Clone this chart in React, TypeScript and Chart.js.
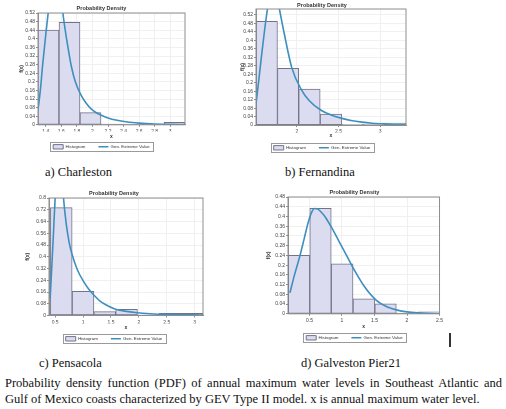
import React, { useEffect, useRef } from "react";
import { Chart, registerables } from "chart.js";

Chart.register(...registerables);
Chart.defaults.font.family = "'Liberation Sans', Arial, sans-serif";
Chart.defaults.color = "#333";

// ---------------- Data ----------------
// a) Charleston
const charlestonBinCenters = [1.435, 1.705, 1.975, 2.245, 2.515, 2.785, 3.055];
const charlestonDensity = [0.441, 0.477, 0.057, 0.003, 0.002, 0.002, 0.011];
const charlestonCurveX = [1.3, 1.33, 1.36, 1.4, 1.44, 1.48, 1.53, 1.58, 1.62, 1.65, 1.69, 1.73, 1.78, 1.85, 1.92, 1.98, 2.05, 2.12, 2.2, 2.3, 2.45, 2.6, 2.8, 3.0, 3.19];
const charlestonCurveY = [0.07, 0.16, 0.28, 0.42, 0.55, 0.68, 0.74, 0.66, 0.52, 0.44, 0.35, 0.27, 0.2, 0.14, 0.1, 0.075, 0.056, 0.043, 0.032, 0.022, 0.013, 0.008, 0.004, 0.002, 0.0012];
const charlestonXTicks = [1.4, 1.6, 1.8, 2, 2.2, 2.4, 2.6, 2.8, 3];
const charlestonYTicks = [0, 0.04, 0.08, 0.12, 0.16, 0.2, 0.24, 0.28, 0.32, 0.36, 0.4, 0.44, 0.48, 0.52];

// b) Fernandina
const fernandinaBinCenters = [1.64, 1.895, 2.15, 2.41, 2.67, 2.925, 3.18];
const fernandinaDensity = [0.49, 0.268, 0.17, 0.052, 0.004, 0.003, 0.01];
const fernandinaCurveX = [1.51, 1.54, 1.58, 1.62, 1.66, 1.7, 1.74, 1.79, 1.85, 1.94, 2.05, 2.15, 2.29, 2.41, 2.53, 2.65, 2.78, 2.9, 3.04, 3.17, 3.31];
const fernandinaCurveY = [0.1, 0.2, 0.34, 0.47, 0.58, 0.66, 0.66, 0.55, 0.43, 0.27, 0.17, 0.115, 0.07, 0.048, 0.033, 0.022, 0.014, 0.009, 0.006, 0.004, 0.003];
const fernandinaXTicks = [2, 2.5, 3];
const fernandinaYTicks = [0, 0.04, 0.08, 0.12, 0.16, 0.2, 0.24, 0.28, 0.32, 0.36, 0.4, 0.44, 0.48, 0.52];

// c) Pensacola
const pensacolaBinCenters = [0.61, 1.0, 1.39, 1.78, 2.17, 2.56, 2.95];
const pensacolaDensity = [0.735, 0.165, 0.026, 0.042, 0.004, 0.014, 0.014];
const pensacolaCurveX = [0.41, 0.44, 0.47, 0.5, 0.54, 0.58, 0.62, 0.65, 0.7, 0.75, 0.8, 0.9, 1.02, 1.1, 1.18, 1.3, 1.4, 1.57, 1.75, 1.97, 2.2, 2.36, 2.6, 2.76, 3.0, 3.15];
const pensacolaCurveY = [0.12, 0.33, 0.56, 0.8, 1.02, 1.1, 0.98, 0.8, 0.62, 0.5, 0.42, 0.31, 0.225, 0.18, 0.145, 0.1, 0.075, 0.045, 0.03, 0.019, 0.012, 0.009, 0.006, 0.005, 0.004, 0.003];
const pensacolaXTicks = [0.5, 1, 1.5, 2, 2.5, 3];
const pensacolaYTicks = [0, 0.08, 0.16, 0.24, 0.32, 0.4, 0.48, 0.56, 0.64, 0.72, 0.8];

// d) Galveston Pier21
const galvestonBinCenters = [0.34, 0.67, 1.0, 1.34, 1.67, 2.0, 2.34];
const galvestonDensity = [0.24, 0.433, 0.205, 0.062, 0.041, 0.003, 0.008];
const galvestonCurveX = [0.2, 0.27, 0.35, 0.42, 0.475, 0.53, 0.575, 0.63, 0.69, 0.75, 0.85, 0.95, 1.07, 1.19, 1.35, 1.53, 1.7, 1.85, 2.0, 2.18, 2.35, 2.5];
const galvestonCurveY = [0.086, 0.16, 0.235, 0.31, 0.37, 0.415, 0.433, 0.43, 0.415, 0.395, 0.35, 0.3, 0.24, 0.18, 0.11, 0.055, 0.028, 0.015, 0.008, 0.004, 0.002, 0.001];
const galvestonXTicks = [0.5, 1, 1.5, 2, 2.5];
const galvestonYTicks = [0, 0.04, 0.08, 0.12, 0.16, 0.2, 0.24, 0.28, 0.32, 0.36, 0.4, 0.44, 0.48];

const chartTitle = "Probability Density";
const histogramLabel = "Histogram";
const curveLabel = "Gen. Extreme Value";
const panelCaptions = ["a) Charleston", "b) Fernandina", "c) Pensacola", "d) Galveston Pier21"];
const figureCaptionLine1 =
  "Probability density function (PDF) of annual maximum water levels in Southeast Atlantic and";
const figureCaptionLine2 =
  "Gulf of Mexico coasts characterized by GEV Type II model. x is annual maximum water level.";

// ---------------- Panel set-up ----------------
type Panel = {
  binCenters: number[];
  density: number[];
  curveX: number[];
  curveY: number[];
  xTicks: number[];
  yTicks: number[];
  xMin: number;
  xMax: number;
  yMax: number;
  box: { left: number; top: number; width: number; height: number };
  pad: { left: number; right: number };
  titlePad: { top: number; bottom: number };
  yAxisWidth: number;
  yTitlePad: number;
  xAxisHeight: number;
  xTitlePad: number;
};

const panels: Panel[] = [
  {
    binCenters: charlestonBinCenters, density: charlestonDensity,
    curveX: charlestonCurveX, curveY: charlestonCurveY,
    xTicks: charlestonXTicks, yTicks: charlestonYTicks,
    xMin: 1.3, xMax: 3.19, yMax: 0.52,
    box: { left: 10, top: 0, width: 180, height: 159 },
    pad: { left: 8, right: 5 },
    titlePad: { top: 4.7, bottom: 1.7 },
    yAxisWidth: 20, yTitlePad: 0.5,
    xAxisHeight: 6.8, xTitlePad: -8.2,
  },
  {
    binCenters: fernandinaBinCenters, density: fernandinaDensity,
    curveX: fernandinaCurveX, curveY: fernandinaCurveY,
    xTicks: fernandinaXTicks, yTicks: fernandinaYTicks,
    xMin: 1.51, xMax: 3.31, yMax: 0.548,
    box: { left: 228, top: 0, width: 180, height: 160 },
    pad: { left: 10, right: 2 },
    titlePad: { top: 1.7, bottom: 0.7 },
    yAxisWidth: 18, yTitlePad: 2,
    xAxisHeight: 7.5, xTitlePad: -6.5,
  },
  {
    binCenters: pensacolaBinCenters, density: pensacolaDensity,
    curveX: pensacolaCurveX, curveY: pensacolaCurveY,
    xTicks: pensacolaXTicks, yTicks: pensacolaYTicks,
    xMin: 0.39, xMax: 3.15, yMax: 0.8,
    box: { left: 22, top: 186, width: 183, height: 165 },
    pad: { left: 3, right: 2 },
    titlePad: { top: 3.7, bottom: 1.7 },
    yAxisWidth: 24, yTitlePad: 0,
    xAxisHeight: 8.1, xTitlePad: -6.9,
  },
  {
    binCenters: galvestonBinCenters, density: galvestonDensity,
    curveX: galvestonCurveX, curveY: galvestonCurveY,
    xTicks: galvestonXTicks, yTicks: galvestonYTicks,
    xMin: 0.17, xMax: 2.5, yMax: 0.48,
    box: { left: 261, top: 185, width: 184, height: 165 },
    pad: { left: 5, right: 2 },
    titlePad: { top: 3.7, bottom: 1.7 },
    yAxisWidth: 22, yTitlePad: 0,
    xAxisHeight: 8.8, xTitlePad: -6.9,
  },
];

const fmt = (v: number | string) => String(Number(Number(v).toFixed(3)));

// draws the plot frame and a border round the legend
const framePlugin = {
  id: "frameAndLegendBox",
  afterDatasetsDraw(chart: any) {
    const { ctx, chartArea: a } = chart;
    ctx.save();
    ctx.strokeStyle = "#8e8e8e";
    ctx.lineWidth = 1;
    ctx.strokeRect(a.left, a.top, a.right - a.left, a.bottom - a.top);
    ctx.restore();
  },
  afterDraw(chart: any) {
    const boxes = chart.legend && chart.legend.legendHitBoxes;
    if (!boxes || !boxes.length) return;
    let l = Infinity, r = -Infinity, t = Infinity, b = -Infinity;
    boxes.forEach((h: any) => {
      l = Math.min(l, h.left);
      r = Math.max(r, h.left + h.width);
      t = Math.min(t, h.top);
      b = Math.max(b, h.top + h.height);
    });
    const ctx = chart.ctx;
    ctx.save();
    ctx.strokeStyle = "#9a9a9a";
    ctx.lineWidth = 1;
    ctx.strokeRect(Math.round(l - 3) + 0.5, Math.round(t - 2.5) + 0.5, Math.round(r - l + 6), Math.round(b - t + 5));
    ctx.restore();
  },
};

function PdfPanel({ p }: { p: Panel }) {
  const ref = useRef<HTMLCanvasElement>(null);
  useEffect(() => {
    const chart = new Chart(ref.current as HTMLCanvasElement, {
      type: "bar",
      data: {
        datasets: [
          {
            type: "bar",
            label: histogramLabel,
            data: p.binCenters.map((x, i) => ({ x, y: p.density[i] })),
            backgroundColor: "#dcdcf1",
            borderColor: "#72728a",
            borderWidth: 1,
            borderSkipped: false,
            barThickness: "flex",
            categoryPercentage: 1,
            barPercentage: 1,
            order: 1,
            pointStyle: "rect",
          } as any,
          {
            type: "line",
            label: curveLabel,
            data: p.curveX.map((x, i) => ({ x, y: p.curveY[i] })),
            borderColor: "#3f8fbe",
            backgroundColor: "#3f8fbe",
            borderWidth: 1.6,
            pointRadius: 0,
            cubicInterpolationMode: "monotone",
            fill: false,
            order: 0,
            pointStyle: "line",
          } as any,
        ],
      },
      options: {
        animation: false,
        responsive: false,
        devicePixelRatio: 1,
        layout: { padding: { left: p.pad.left, right: p.pad.right, top: 0, bottom: 0 } },
        plugins: {
          title: {
            display: true,
            text: chartTitle,
            font: { size: 5.5, weight: "bold" },
            color: "#333",
            padding: p.titlePad,
          },
          legend: {
            position: "bottom",
            labels: {
              usePointStyle: true,
              pointStyleWidth: 10,
              boxHeight: 5,
              padding: 13,
              font: { size: 4.4 },
              color: "#333",
              sort: (a: any, b: any) => a.datasetIndex - b.datasetIndex,
            },
          },
          tooltip: { enabled: false },
        },
        scales: {
          x: {
            type: "linear",
            min: p.xMin,
            max: p.xMax,
            offset: false,
            grid: { offset: false, color: "#f0f0f0", tickLength: 2, tickColor: "#8e8e8e" },
            border: { color: "#8e8e8e" },
            ticks: { autoSkip: false, maxRotation: 0, padding: 2, font: { size: 5 }, color: "#444", callback: (v: any) => fmt(v) },
            afterBuildTicks: (s: any) => { s.ticks = p.xTicks.map((v) => ({ value: v })); },
            afterFit: (s: any) => { s.height = p.xAxisHeight; },
            title: { display: true, text: "x", font: { size: 5, weight: "bold" }, color: "#333", padding: { top: 0, bottom: p.xTitlePad } },
          },
          y: {
            type: "linear",
            min: 0,
            max: p.yMax,
            grid: { color: "#f0f0f0", tickLength: 2, tickColor: "#8e8e8e" },
            border: { color: "#8e8e8e" },
            ticks: { autoSkip: false, padding: 1, font: { size: 5 }, color: "#444", callback: (v: any) => fmt(v) },
            afterBuildTicks: (s: any) => { s.ticks = p.yTicks.map((v) => ({ value: v })); },
            afterFit: (s: any) => { s.width = p.yAxisWidth; },
            title: { display: true, text: "f(x)", font: { size: 5, weight: "bold" }, color: "#333", padding: { top: p.yTitlePad, bottom: 0 } },
          },
        },
      } as any,
      plugins: [framePlugin],
    });
    return () => chart.destroy();
  }, [p]);
  return (
    <canvas
      ref={ref}
      width={p.box.width}
      height={p.box.height}
      style={{ position: "absolute", left: p.box.left, top: p.box.top, width: p.box.width, height: p.box.height }}
    />
  );
}

const serif = "'Liberation Serif', 'Times New Roman', serif";
const captionStyle: React.CSSProperties = {
  position: "absolute",
  fontFamily: serif,
  fontSize: 12.5,
  lineHeight: "16px",
  color: "#111",
  whiteSpace: "nowrap",
};

export default function App() {
  return (
    <div style={{ position: "fixed", left: 0, top: 0, width: 506, height: 409, background: "#fff", overflow: "hidden" }}>
      {panels.map((p, i) => (
        <PdfPanel key={i} p={p} />
      ))}
      <div style={{ ...captionStyle, left: 45, top: 164 }}>{panelCaptions[0]}</div>
      <div style={{ ...captionStyle, left: 285, top: 164 }}>{panelCaptions[1]}</div>
      <div style={{ ...captionStyle, left: 39, top: 355 }}>{panelCaptions[2]}</div>
      <div style={{ ...captionStyle, left: 301, top: 355 }}>{panelCaptions[3]}</div>
      <div style={{ ...captionStyle, left: 5, top: 375, width: 497, textAlign: "justify", textAlignLast: "justify", whiteSpace: "normal" }}>
        {figureCaptionLine1}
      </div>
      <div style={{ ...captionStyle, left: 5, top: 391 }}>{figureCaptionLine2}</div>
      <div style={{ position: "absolute", left: 449, top: 333, width: 2, height: 14, background: "#333" }} />
    </div>
  );
}
